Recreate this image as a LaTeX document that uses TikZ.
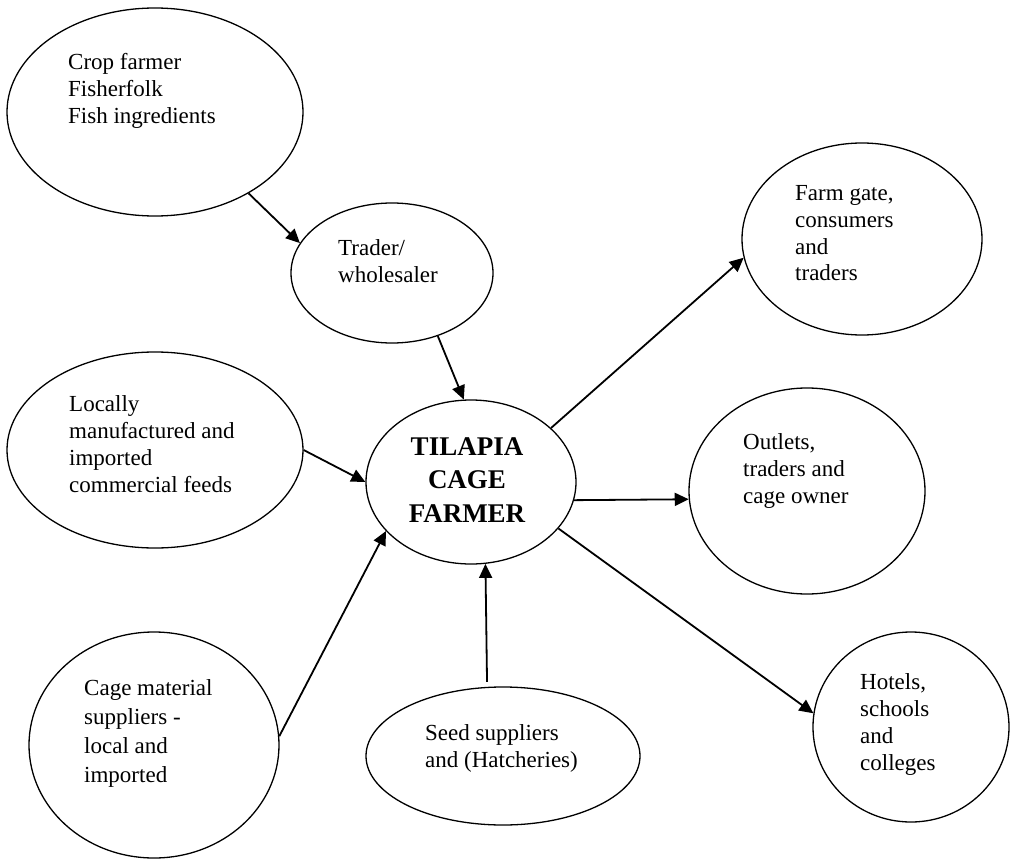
\documentclass[tikz,border=0pt]{standalone}
\usepackage{fontspec}
\setmainfont{Liberation Serif}
\usetikzlibrary{shapes.geometric,arrows.meta}
\newcommand\mylines[1]{\begin{tabular}[t]{@{}l@{}}#1\end{tabular}}
\newcommand\mylinesc[1]{\begin{tabular}[t]{@{}c@{}}#1\end{tabular}}
\begin{document}
\begin{tikzpicture}[x=1pt,y=-1pt,
  ov/.style n args={2}{draw, ellipse, line width=1.3pt, inner sep=0pt,
    minimum width=#1pt, minimum height=#2pt},
  txt/.style={anchor=base west, inner sep=0pt, font=\fontsize{23}{27}\selectfont},
  txtwide/.style={anchor=base west, inner sep=0pt, font=\fontsize{23}{29}\selectfont},
  txtb/.style={anchor=base, inner sep=0pt, font=\fontsize{27}{33.5}\selectfont\bfseries},
  arr/.style={line width=1.8pt, -{Triangle[length=14pt,width=13pt]}}]
\useasboundingbox (0,0) rectangle (1010,859);
% ellipses
\node[ov={296}{208}] (A) at (155,112) {};
\node[ov={202}{140}] (B) at (392,273) {};
\node[ov={296}{196}] (C) at (155,450) {};
\node[ov={210}{164}] (T) at (471,482) {};
\node[ov={250}{226}] (D) at (154,745) {};
\node[ov={274}{138}] (E) at (503,756) {};
\node[ov={240}{192}] (F) at (862,239) {};
\node[ov={236}{206}] (G) at (807,491) {};
\node[ov={196}{190}] (H) at (911,727) {};
% texts
\node[txt] (tA) at (68,69.3) {\mylines{Crop farmer\\Fisherfolk\\Fish ingredients}};
\node[txt] (tB) at (338,255) {\mylines{Trader/\\wholesaler}};
\node[txt] (tC) at (69,411) {\mylines{Locally\\manufactured and\\imported\\commercial feeds}};
\node[txtb] (tT) at (467,455) {\mylinesc{TILAPIA\\CAGE\\FARMER}};
\node[txtwide] (tD) at (84,695) {\mylines{Cage material\\suppliers -\\local and\\imported}};
\node[txt] (tE) at (425,740) {\mylines{Seed suppliers\\and (Hatcheries)}};
\node[txt] (tF) at (795,200) {\mylines{Farm gate,\\consumers\\and\\traders}};
\node[txt] (tG) at (743,449) {\mylines{Outlets,\\traders and\\cage owner}};
\node[txt] (tH) at (860,689) {\mylines{Hotels,\\schools\\and\\colleges}};
% connectors
\draw[arr] (A.-41) -- (B.162);
\draw[arr] (B.-54) -- (T.95.6);
\draw[arr] (C.0) -- (T.180);
\draw[arr] (D.4.6) -- (T.210.8);
\draw[arr] ([yshift=5pt]E.103.7) -- (T.-80.2);
\draw[arr] (T.34.8) -- (F.189);
\draw[arr] (T.-10.3) -- (G.184.4);
\draw[arr] (T.-28.1) -- (H.172.4);
\end{tikzpicture}
\end{document}
